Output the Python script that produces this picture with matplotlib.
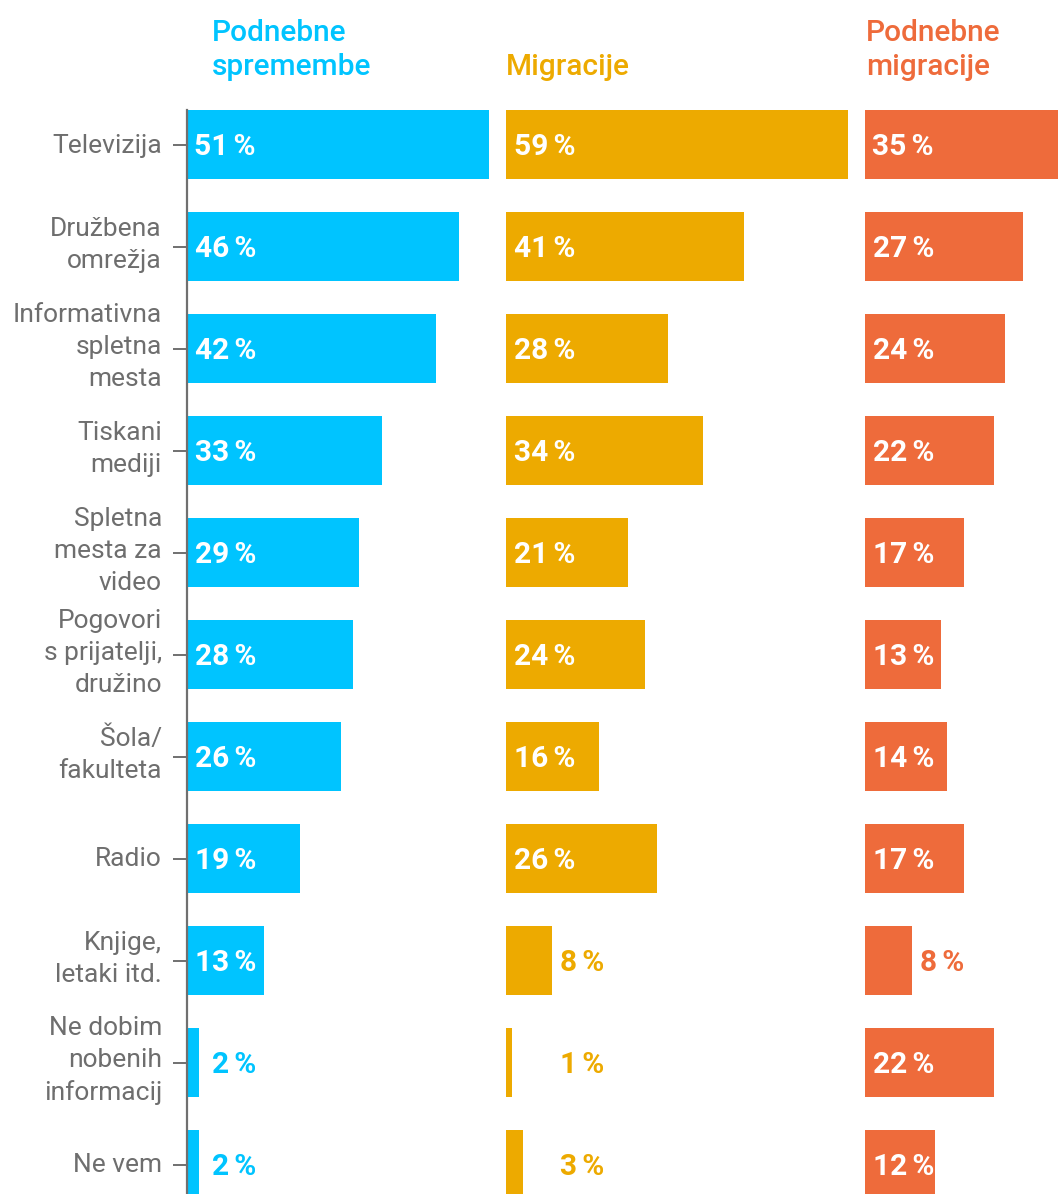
import matplotlib
matplotlib.use("Agg")
import matplotlib.pyplot as plt
from matplotlib.transforms import ScaledTranslation, blended_transform_factory

plt.rcParams['font.family'] = ['Roboto', 'DejaVu Sans']

categories = ["Televizija", "Družbena\nomrežja", "Informativna\nspletna\nmesta",
              "Tiskani\nmediji", "Spletna\nmesta za\nvideo", "Pogovori\ns prijatelji,\ndružino",
              "Šola/\nfakulteta", "Radio", "Knjige,\nletaki itd.",
              "Ne dobim\nnobenih\ninformacij", "Ne vem"]
series_names = ["Podnebne\nspremembe", "Migracije", "Podnebne\nmigracije"]
climate = [51, 46, 42, 33, 29, 28, 26, 19, 13, 2, 2]
migration = [59, 41, 28, 34, 21, 24, 16, 26, 8, 1, 3]
climate_migration = [35, 27, 24, 22, 17, 13, 14, 17, 8, 22, 12]

series = [climate, migration, climate_migration]
colors = ["#00C4FF", "#EDAA00", "#EE6B3B"]
gray = "#6e6e6e"

W, H = 1058, 1194
fig = plt.figure(figsize=(W / 100, H / 100), dpi=100)

# panel geometry in pixels (left, right) and x-limit
panels = [(187, 489, 51.0), (506, 848, 59.0), (865, 1058, 193 / 5.85)]
header_x = [212, 506, 866]
top_px, bottom_px = 110, H
pitch, bar_h = 102, 69
n = len(categories)
y_top = -(bar_h / 2) / pitch
y_bot = (bottom_px - (top_px + bar_h / 2)) / pitch

for k, (vals, col, (l, r, xmax)) in enumerate(zip(series, colors, panels)):
    ax = fig.add_axes([l / W, 1 - bottom_px / H, (r - l) / W, (bottom_px - top_px) / H])
    ypos = list(range(n))
    ax.barh(ypos, vals, height=bar_h / pitch, color=col, linewidth=0)
    ax.set_xlim(0, xmax)
    ax.set_ylim(y_bot, y_top)
    ax.set_xticks([])
    for s in ["top", "right", "bottom"]:
        ax.spines[s].set_visible(False)
    if k == 0:
        ax.spines["left"].set_color("#707070")
        ax.spines["left"].set_linewidth(1.6)
        ax.set_yticks(ypos)
        ax.tick_params(axis="y", length=10, width=1.4, color="#707070", labelleft=False)
        base = blended_transform_factory(ax.transAxes, ax.transData)
        for i, lab in enumerate(categories):
            nl = lab.count("\n") + 1
            # last-line baseline offset below the tick, in pixels
            off = 8.0 if nl == 1 else 6.0 + (nl - 1) * 15.85
            tr = base + ScaledTranslation(-25 / 100, -off / 100, fig.dpi_scale_trans)
            ax.text(0, i, lab, ha="right", va="baseline", ma="right", fontsize=19,
                    color=gray, linespacing=1.43, transform=tr, clip_on=False)
    else:
        ax.spines["left"].set_visible(False)
        ax.set_yticks([])
    upx = (r - l) / xmax  # pixels per unit
    inside_thr = 60 / upx
    outside_vals = [v for v in vals if v < inside_thr]
    r_in = 69 / upx
    r_out = max(r_in, (max(outside_vals) * upx + 52) / upx) if outside_vals else r_in
    shift = ax.transData + ScaledTranslation(0, -2.5 / 100, fig.dpi_scale_trans)
    for i, v in enumerate(vals):
        inside = v >= inside_thr
        ax.text(r_in if inside else r_out, i, f"{v}\u2006%", ha="right", va="center",
                fontsize=21.5, fontweight="bold", color="white" if inside else col,
                clip_on=False, transform=shift)
    fig.text(header_x[k] / W, 1 - 81 / H, series_names[k], ha="left", va="bottom",
             fontsize=21.5, fontweight="medium", color=col, linespacing=1.28)

fig.savefig("out.png", dpi=100)
